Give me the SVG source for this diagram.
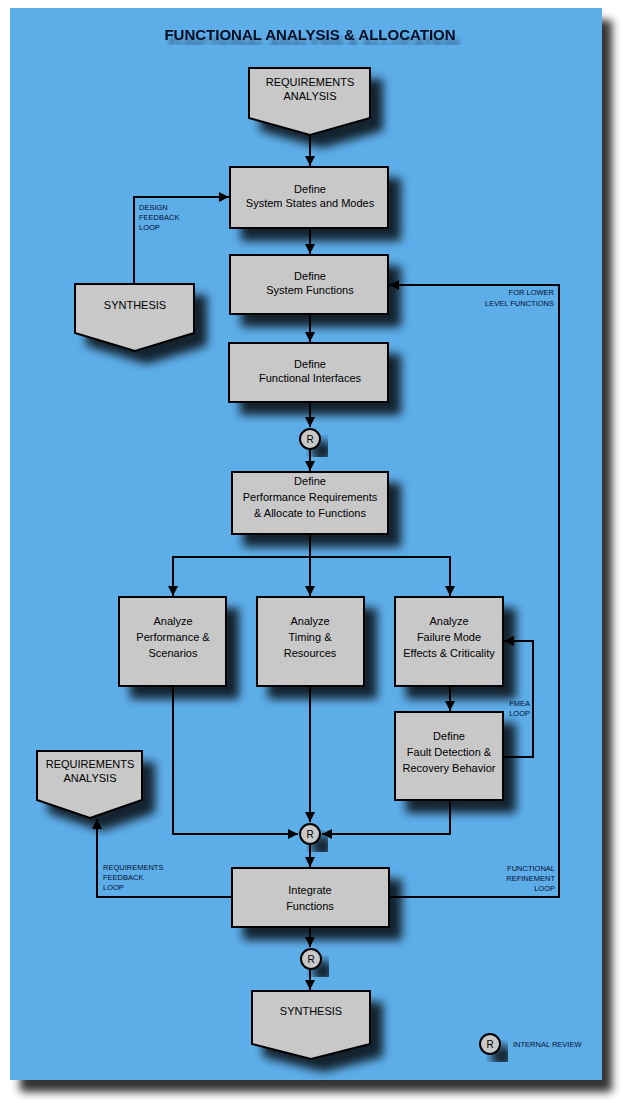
<svg xmlns="http://www.w3.org/2000/svg" width="623" height="1103" viewBox="0 0 623 1103">
<defs>
<filter id="sh" x="-30%" y="-30%" width="170%" height="170%"><feGaussianBlur in="SourceAlpha" stdDeviation="5"/><feOffset dx="12" dy="12"/><feComponentTransfer><feFuncA type="linear" slope="0.8"/></feComponentTransfer><feMerge><feMergeNode/><feMergeNode in="SourceGraphic"/></feMerge></filter>
<filter id="psh" x="-10%" y="-10%" width="120%" height="120%"><feGaussianBlur in="SourceAlpha" stdDeviation="4"/><feOffset dx="10" dy="12"/><feComponentTransfer><feFuncA type="linear" slope="0.8"/></feComponentTransfer><feMerge><feMergeNode/><feMergeNode in="SourceGraphic"/></feMerge></filter>
<filter id="tsh"><feGaussianBlur in="SourceAlpha" stdDeviation="2"/><feOffset dx="4" dy="8"/><feComponentTransfer><feFuncA type="linear" slope="0.4"/></feComponentTransfer><feMerge><feMergeNode/><feMergeNode in="SourceGraphic"/></feMerge></filter>
<marker id="ah" viewBox="0 0 10 10" refX="10" refY="5" markerWidth="5" markerHeight="5" orient="auto"><path d="M0,0 L10,5 L0,10 z" fill="#000"/></marker>
</defs>
<style>
.b{fill:#c8c8c8;stroke:#000;stroke-width:2}
.t{font-family:"Liberation Sans",Arial,sans-serif;font-size:11px;fill:#000;text-anchor:middle}
.s{font-family:"Liberation Sans",Arial,sans-serif;font-size:7.5px;fill:#061030}
.c path,.c line,.c polyline{fill:none;stroke:#000;stroke-width:2}
.r{font-family:"Liberation Sans",Arial,sans-serif;font-size:10px;text-anchor:middle}
</style>
<rect width="623" height="1103" fill="#fff"/>
<rect x="10" y="8" width="592" height="1072" fill="#5dade9" filter="url(#psh)"/>
<text x="310" y="40" font-family="Liberation Sans,Arial,sans-serif" font-size="15" font-weight="bold" fill="#050a20" text-anchor="middle" filter="url(#tsh)">FUNCTIONAL ANALYSIS &amp; ALLOCATION</text>
<g class="c">
<line x1="310" y1="135" x2="310" y2="166" marker-end="url(#ah)"/>
<line x1="310" y1="228" x2="310" y2="254" marker-end="url(#ah)"/>
<line x1="310" y1="314" x2="310" y2="342" marker-end="url(#ah)"/>
<line x1="310" y1="402" x2="310" y2="427" marker-end="url(#ah)"/>
<line x1="310" y1="450" x2="310" y2="471" marker-end="url(#ah)"/>
<line x1="310" y1="534" x2="310" y2="557"/>
<polyline points="173,596 173,557 450,557 450,596" marker-end="url(#ah)"/>
<line x1="173" y1="557" x2="173" y2="596" marker-end="url(#ah)"/>
<line x1="310" y1="557" x2="310" y2="596" marker-end="url(#ah)"/>
<line x1="450" y1="686" x2="450" y2="711" marker-end="url(#ah)"/>
<polyline points="503,757 533,757 533,641 504,641" marker-end="url(#ah)"/>
<polyline points="173,686 173,834 298,834" marker-end="url(#ah)"/>
<line x1="310" y1="686" x2="310" y2="822" marker-end="url(#ah)"/>
<polyline points="450,800 450,834 322,834" marker-end="url(#ah)"/>
<line x1="310" y1="845" x2="310" y2="867" marker-end="url(#ah)"/>
<line x1="310" y1="927" x2="310" y2="947" marker-end="url(#ah)"/>
<line x1="310" y1="970" x2="310" y2="990" marker-end="url(#ah)"/>
<polyline points="389,897 559,897 559,285 389,285" marker-end="url(#ah)"/>
<polyline points="232,897 97,897 97,819" marker-end="url(#ah)"/>
<polyline points="134,284 134,197 229,197" marker-end="url(#ah)"/>
</g>
<g id="req1"><path class="b" d="M249,68 H370 V118 L310,135 L249,118 Z" filter="url(#sh)"/><text class="t" x="310" y="86">REQUIREMENTS</text><text class="t" x="310" y="100">ANALYSIS</text></g>
<g id="states"><rect class="b" x="230" y="167" width="158" height="61" filter="url(#sh)"/><text class="t" x="310" y="193">Define</text><text class="t" x="310" y="207">System States and Modes</text></g>
<g id="sysfn"><rect class="b" x="230" y="255" width="158" height="59" filter="url(#sh)"/><text class="t" x="310" y="280">Define</text><text class="t" x="310" y="294">System Functions</text></g>
<g id="ifaces"><rect class="b" x="229" y="343" width="159" height="59" filter="url(#sh)"/><text class="t" x="310" y="368">Define</text><text class="t" x="310" y="382">Functional Interfaces</text></g>
<g id="r1"><circle class="b" cx="310" cy="439" r="10" filter="url(#sh)"/><text class="r" x="310" y="443">R</text></g>
<g id="perf"><rect class="b" x="232" y="472" width="156" height="62" filter="url(#sh)"/><text class="t" x="310" y="485">Define</text><text class="t" x="310" y="501">Performance Requirements</text><text class="t" x="310" y="517">&amp; Allocate to Functions</text></g>
<g id="ap"><rect class="b" x="119" y="597" width="107" height="89" filter="url(#sh)"/><text class="t" x="173" y="625">Analyze</text><text class="t" x="173" y="641">Performance &amp;</text><text class="t" x="173" y="657">Scenarios</text></g>
<g id="at"><rect class="b" x="257" y="597" width="107" height="89" filter="url(#sh)"/><text class="t" x="310" y="625">Analyze</text><text class="t" x="310" y="641">Timing &amp;</text><text class="t" x="310" y="657">Resources</text></g>
<g id="af"><rect class="b" x="395" y="597" width="108" height="89" filter="url(#sh)"/><text class="t" x="449" y="625">Analyze</text><text class="t" x="449" y="641">Failure Mode</text><text class="t" x="449" y="657">Effects &amp; Criticality</text></g>
<g id="fd"><rect class="b" x="395" y="712" width="108" height="88" filter="url(#sh)"/><text class="t" x="449" y="740">Define</text><text class="t" x="449" y="756">Fault Detection &amp;</text><text class="t" x="449" y="772">Recovery Behavior</text></g>
<g id="syn1"><path class="b" d="M75,284 H194 V333 L135,351 L75,333 Z" filter="url(#sh)"/><text class="t" x="135" y="309">SYNTHESIS</text></g>
<g id="req2"><path class="b" d="M37,751 H142 V800 L90,818 L37,800 Z" filter="url(#sh)"/><text class="t" x="90" y="768">REQUIREMENTS</text><text class="t" x="90" y="782">ANALYSIS</text></g>
<g id="r2"><circle class="b" cx="310" cy="834" r="10" filter="url(#sh)"/><text class="r" x="310" y="838">R</text></g>
<g id="integ"><rect class="b" x="232" y="868" width="157" height="59" filter="url(#sh)"/><text class="t" x="310" y="894">Integrate</text><text class="t" x="310" y="910">Functions</text></g>
<g id="r3"><circle class="b" cx="311" cy="959" r="10" filter="url(#sh)"/><text class="r" x="311" y="963">R</text></g>
<g id="syn2"><path class="b" d="M252,991 H370 V1044 L311,1059 L252,1044 Z" filter="url(#sh)"/><text class="t" x="311" y="1015">SYNTHESIS</text></g>
<g id="legend"><circle class="b" cx="490" cy="1044" r="10" filter="url(#sh)"/><text class="r" x="490" y="1048">R</text><text class="s" x="513" y="1047">INTERNAL REVIEW</text></g>
<g id="labels">
<text class="s" x="139" y="210">DESIGN</text><text class="s" x="139" y="220">FEEDBACK</text><text class="s" x="139" y="230">LOOP</text>
<text class="s" x="554" y="295" text-anchor="end">FOR LOWER</text><text class="s" x="554" y="306" text-anchor="end">LEVEL FUNCTIONS</text>
<text class="s" x="530" y="706" text-anchor="end">FMEA</text><text class="s" x="530" y="716" text-anchor="end">LOOP</text>
<text class="s" x="103" y="870">REQUIREMENTS</text><text class="s" x="103" y="880">FEEDBACK</text><text class="s" x="103" y="890">LOOP</text>
<text class="s" x="555" y="871" text-anchor="end">FUNCTIONAL</text><text class="s" x="555" y="881" text-anchor="end">REFINEMENT</text><text class="s" x="555" y="891" text-anchor="end">LOOP</text>
</g>
</svg>
